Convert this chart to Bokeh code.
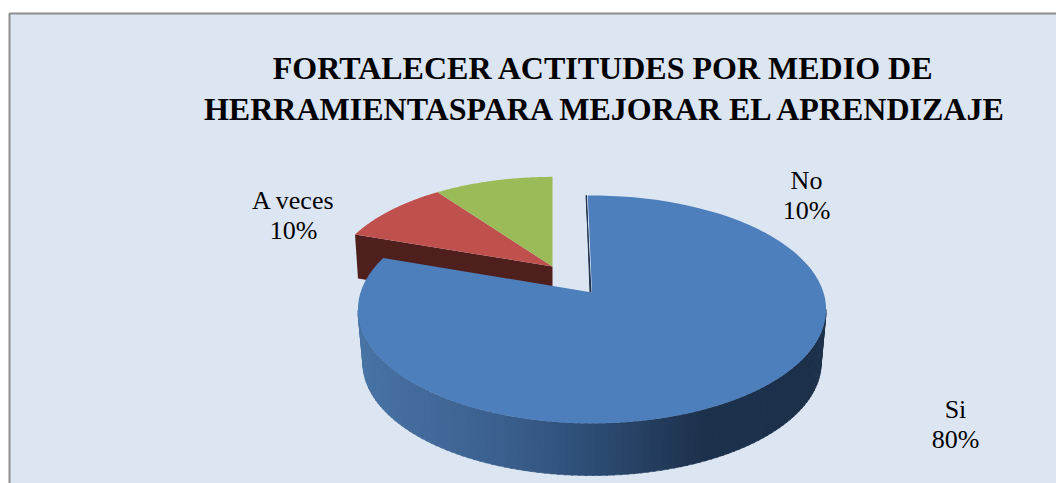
import numpy as np
from bokeh.plotting import figure
from bokeh.models import Range1d
from bokeh.core.properties import value
from bokeh.embed import file_html
from bokeh.resources import INLINE

title_lines = ["FORTALECER ACTITUDES POR MEDIO DE", "HERRAMIENTASPARA MEJORAR EL APRENDIZAJE"]
categories = ["Si", "A veces", "No"]
percent = [80, 10, 10]
colors = ["#4d7fbc", "#c0504d", "#9bbb59"]

W, H = 1056, 483
p = figure(width=W, height=H, output_backend="svg", toolbar_location=None,
           x_range=Range1d(0, W), y_range=Range1d(H, 0),
           x_axis_type=None, y_axis_type=None, min_border=0,
           background_fill_color="white", border_fill_color="white")
p.outline_line_color = None
p.grid.visible = False

# panel
p.quad(left=[9], right=[W], top=[13], bottom=[H], fill_color="#dce6f2", line_color=None)
p.line([9, 9, W], [H, 13, 13], line_color="#8e8e8e", line_width=2)

K = 0.149  # perspective of the pie's plane


def project(ax, ay, rx, ry, deg):
    a = np.radians(deg)
    u, v = np.sin(a), np.cos(a)
    d = 1 + K * v
    return ax + rx * u / d, ay - ry * v / d


def wedge_pts(ax, ay, rx, ry, a0, a1):
    t = np.linspace(a0, a1, 90)
    x, y = project(ax, ay, rx, ry, t)
    return np.r_[ax, x].tolist(), np.r_[ay, y].tolist()


shares = np.array(percent, dtype=float) / sum(percent) * 360
ends = np.cumsum(shares)
starts = ends - shares

# back slices (exploded): A veces, No
SX, SY, SRX, SRY = 552, 266, 219, 103
rx0, ry0 = project(SX, SY, SRX, SRY, starts[1] + 1)
p.patch([float(rx0), SX, SX, float(rx0) + 3], [float(ry0), SY, SY + 44, float(ry0) + 44],
        fill_color="#4f1f1d", line_color=None)
for i, a0, a1 in ((1, starts[1] + 1, ends[1]), (2, starts[2], ends[2])):
    x, y = wedge_pts(SX, SY, SRX, SRY, a0, a1)
    p.patch(x, y, fill_color=colors[i], line_color=None)

# main slice
BX, BY, BRX, BRY = 591.5, 292, 231.5, 111.4
FX, FY, FRX, FRY = 591.5, 346, 226.5, 109.8

a_r, a_l = 98.6, 261.4
tt = np.arange(a_r, a_l + 1e-6, 1.5)
sx, sc = [340, 500, 600, 700, 830], [(0x4a, 0x76, 0xa8), (0x3b, 0x60, 0x8e), (0x2c, 0x4b, 0x72), (0x1d, 0x32, 0x4d), (0x1c, 0x30, 0x4a)]
for t0, t1 in zip(tt[:-1], tt[1:]):
    xt0, yt0 = project(BX, BY, BRX, BRY, t0)
    xt1, yt1 = project(BX, BY, BRX, BRY, t1 + 0.4)
    xb0, yb0 = project(FX, FY, FRX, FRY, t0)
    xb1, yb1 = project(FX, FY, FRX, FRY, t1 + 0.4)
    xm = (xt0 + xt1) / 2
    c = "#%02x%02x%02x" % tuple(int(np.interp(xm, sx, [s[j] for s in sc])) for j in range(3))
    p.patch([float(xt0), float(xt1), float(xb1), float(xb0)],
            [float(yt0), float(yt1), float(yb1), float(yb0)], fill_color=c, line_color=c, line_width=0.6)

# inner cut edge of the main slice
ex, ey = project(BX, BY, BRX, BRY, starts[0])
p.patch([float(ex) - 6, BX - 1, BX - 2, float(ex) - 5.5], [float(ey), BY, BY, float(ey)],
        fill_color="#1d324d", line_color="#1d324d", line_width=1)

x, y = wedge_pts(BX, BY, BRX, BRY, starts[0] - 1.2, ends[0] + 1)
p.patch(x, y, fill_color=colors[0], line_color=None)

# texts
serif = value("Liberation Serif")
p.text([603, 606], [67, 108], text=title_lines, text_font=serif, text_font_style="bold",
       text_font_size="32px", text_color="black", text_align="center", text_baseline="middle")

lab_x = [955, 293, 806]
lab_y = [409, 200, 180]
for xx, yy, c, v in zip(lab_x, lab_y, categories, percent):
    p.text([xx, xx], [yy, yy + 30], text=[c, f"{v}%"], text_font=serif, text_font_size="26px",
           text_color="black", text_align="center", text_baseline="middle")

open("out.html", "w").write(file_html(p, INLINE))
